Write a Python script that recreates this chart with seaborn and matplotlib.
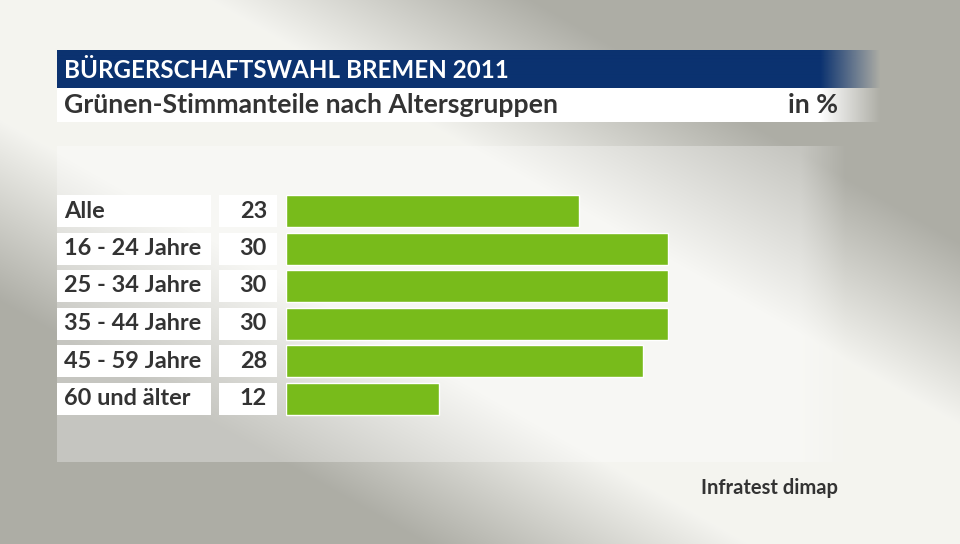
import matplotlib

matplotlib.use("Agg")
import matplotlib.pyplot as plt  # noqa: E402
import matplotlib.transforms as mtransforms  # noqa: E402
import numpy as np  # noqa: E402
import pandas as pd  # noqa: E402
import seaborn as sns  # noqa: E402

# --- data -------------------------------------------------------------
categories = ["Alle", "16 - 24 Jahre", "25 - 34 Jahre", "35 - 44 Jahre",
              "45 - 59 Jahre", "60 und älter"]
values = [23, 30, 30, 30, 28, 12]

title = "BÜRGERSCHAFTSWAHL BREMEN 2011"
subtitle = "Grünen-Stimmanteile nach Altersgruppen"
unit = "in %"
source = "Infratest dimap"

GREEN = "#78bb1b"
NAVY = "#0b3270"
TEXT = "#333333"

sns.set_theme(style="white")
plt.rcParams["font.family"] = ["Lato", "DejaVu Sans"]

W, H = 960, 544
fig = plt.figure(figsize=(W / 100, H / 100), dpi=100)

# --- background (pixel coordinates) ------------------------------------
bg = fig.add_axes([0, 0, 1, 1])
bg.set_xlim(0, W)
bg.set_ylim(H, 0)
bg.axis("off")

# light diagonal band from top-left to bottom-right, grey towards the
# top-right and bottom-left corners
xx, yy = np.meshgrid(np.arange(W) / W, np.arange(H) / H)
diag = xx - yy
dark = np.clip((np.abs(diag) - 0.22) * 3.0, 0, 1)
light = np.array([0.957, 0.957, 0.94])
gray = np.array([0.68, 0.68, 0.65])
img = light[None, None, :] * (1 - dark[..., None]) + gray[None, None, :] * dark[..., None]

# slightly lighter panel behind the bars, fading out on the right
px = np.arange(W)
panel_a = np.clip((845 - px) / 45, 0, 1) * (px >= 57)
panel_rows = (np.arange(H) >= 146) & (np.arange(H) < 462)
alpha = 0.3 * panel_rows[:, None] * panel_a[None, :]
img = img * (1 - alpha[..., None]) + alpha[..., None] * 1.0
bg.imshow(img, extent=(0, W, H, 0), aspect="auto", zorder=0)


def faded_band(color, y0, y1):
    rgba = np.zeros((1, W, 4))
    rgba[..., :3] = matplotlib.colors.to_rgb(color)
    rgba[0, :, 3] = np.clip((880 - px) / 60, 0, 1) * (px >= 57)
    bg.imshow(rgba, extent=(0, W, y1, y0), aspect="auto", zorder=1,
              interpolation="bilinear")


faded_band(NAVY, 50, 88)
faded_band("white", 88, 122)

bg.text(64, 70, title, color="white", fontsize=17.4, fontweight="bold",
        va="center", ha="left", zorder=2)
bg.text(64, 105, subtitle, color=TEXT, fontsize=19.2, fontweight="bold",
        va="center", ha="left", zorder=2)
bg.text(838, 105, unit, color=TEXT, fontsize=19.2, fontweight="bold",
        va="center", ha="right", zorder=2)
bg.text(838, 488, source, color=TEXT, fontsize=14.5, fontweight="bold",
        va="center", ha="right", zorder=2)

# --- bars --------------------------------------------------------------
row = 37.5
top = 211 - row / 2
ax = fig.add_axes([286 / W, 1 - (top + row * len(categories)) / H,
                   509.33 / W, row * len(categories) / H])
ax.patch.set_alpha(0)
df = pd.DataFrame({"group": categories, "value": values})
sns.barplot(data=df, x="value", y="group", orient="h", color=GREEN,
            saturation=1, width=32 / row, ax=ax)
ax.set_xlim(0, 40)
ax.set_ylim(len(categories) - 0.5, -0.5)
ax.axis("off")

trans = mtransforms.blended_transform_factory(bg.transData, ax.transData)
h = 32 / row
for i, (cat, val) in enumerate(zip(categories, values)):
    for x0, x1 in [(57, 211), (219, 277)]:
        ax.add_patch(plt.Rectangle((x0, i - h / 2), x1 - x0, h, transform=trans,
                                   facecolor="white", edgecolor="none",
                                   clip_on=False))
    ax.text(64, i, cat, transform=trans, color=TEXT, fontsize=16.9,
            fontweight="bold", va="center", ha="left")
    ax.text(267, i, str(val), transform=trans, color=TEXT, fontsize=16.9,
            fontweight="bold", va="center", ha="right")

fig.savefig("out.png", dpi=100)
